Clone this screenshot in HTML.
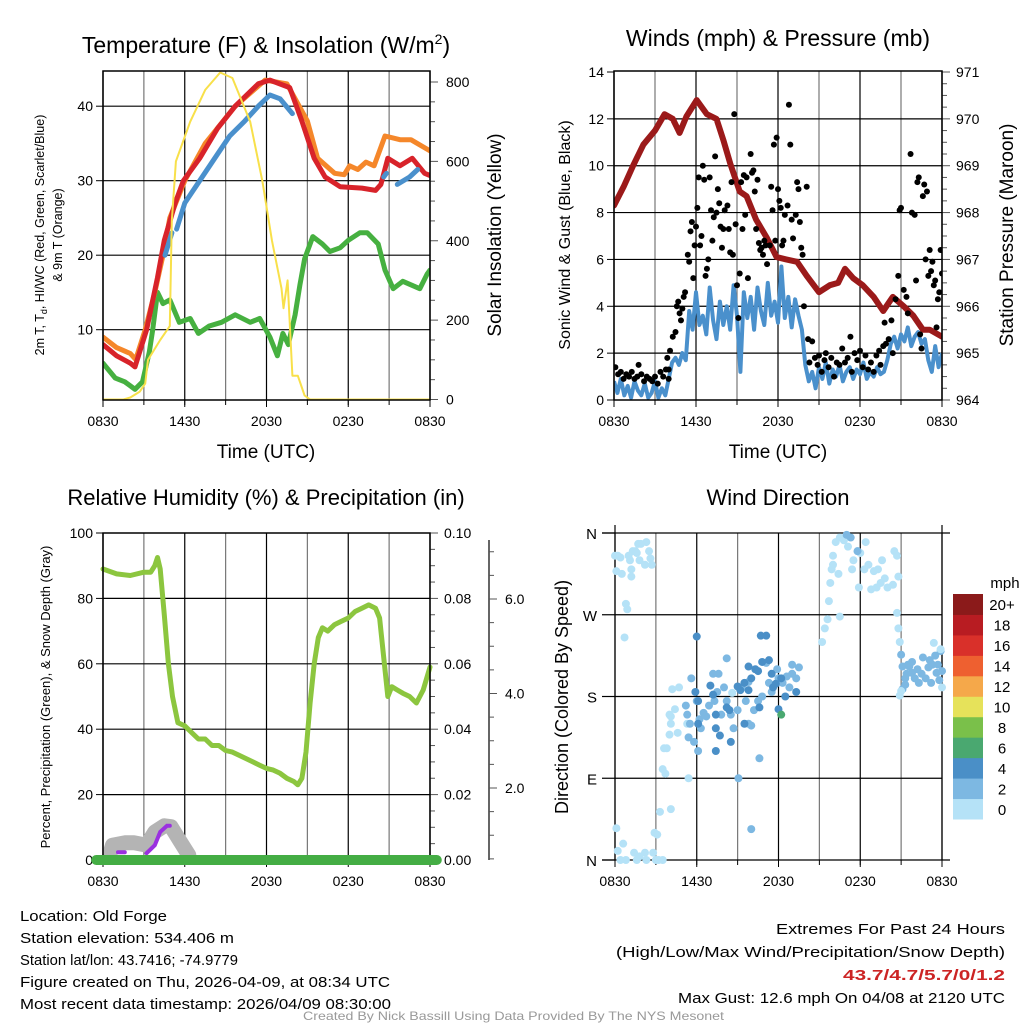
<!DOCTYPE html>
<html><head><meta charset="utf-8"><style>
body{margin:0;background:#fff}
svg{display:block;font-family:"Liberation Sans",sans-serif}
</style></head><body>
<svg id="c" width="1024" height="1024" viewBox="0 0 1024 1024">
<rect width="1024" height="1024" fill="#fff"/>
<g id="g"></g>
</svg>
<script>
// ---------- DATA ----------
const xTickLabels = ["0830","1430","2030","0230","0830"];
// Panel 1: [hour since 0830, value]
const tempOrange = [[0,9],[1,7.6],[2,6.8],[2.4,6],[3.1,10],[3.8,15],[4.4,20],[4.9,25],[6,30],[7.5,35],[9.7,40],[11.9,43.5],[13.5,43],[15,38],[15.75,33],[17,31],[17.7,30.8],[18.1,32],[18.7,31.5],[19.3,32.5],[19.9,32],[20.7,36],[21.8,35.5],[22.6,35.5],[24,34]];
const tempRed = [[0,8],[1,6.5],[2,5.5],[2.35,5],[3.2,10],[4,17],[4.5,22],[5.3,27],[5.9,30],[7.1,33],[8.4,37],[9.7,40],[11.4,43],[12.25,43.5],[13.7,42.5],[14.6,38],[15.5,33],[16.3,30.5],[17.4,29.2],[19,29],[20,28.7],[20.4,29.5],[20.9,33],[21.8,32],[22.7,33],[23.6,31],[24,30.7]];
const tempBlue = [[4.55,20],[5.06,23],null,[5.4,23.5],[6,27],[7.1,30],[8.2,33],[9.3,36],[10.4,38],[11.4,40],[12.25,41.5],[13,41],[13.9,39],null,[20.6,30.5],[20.8,31],null,[21.6,29.5],[22.5,30.5],[23.1,31.5]];
const tempGreen = [[0,5.5],[0.9,3.5],[1.6,3],[2.35,2],[2.9,3],[3.4,7],[3.65,10],[4,15],[4.4,13.5],[4.9,14],[5.6,11],[6.4,11.5],[7,9.5],[7.8,10.5],[8.7,11],[9.7,12],[10.8,11],[11.5,11.5],[12.25,9],[12.8,6.5],[13.2,9.5],[13.6,8],[14.1,12],[14.45,16],[14.8,19.5],[15.4,22.5],[16.1,21.5],[16.65,20.5],[17.4,21],[18,22],[18.85,23],[19.4,23],[20.2,21.5],[20.7,18],[21.3,15.5],[22,16.5],[23.25,15.5],[23.8,17.5],[24,18]];
const insolation = [[0,0],[1.5,0],[2,5],[2.7,20],[3.1,40],[3.3,100],[4.2,150],[4.8,180],[4.9,185],[5.05,450],[5.35,600],[6.4,700],[7.5,780],[8.6,824],[9.5,810],[10.8,700],[11.7,550],[12.4,400],[13.1,280],[13.25,230],[13.55,300],[13.9,60],[14.3,60],[14.8,10],[15.2,0],[24,0]];
const p1LeftTicks = [10,20,30,40];
const p1RightTicks = [0,200,400,600,800];
// Panel 2
const pressure = [[0,968.15],[0.7,968.55],[1.4,969.0],[2.15,969.45],[3,969.75],[3.7,970.1],[4.3,970.0],[4.8,969.7],[5.3,970.05],[6.05,970.4],[6.8,970.1],[7.5,970.0],[8,969.55],[8.5,969.05],[9.2,968.45],[9.7,968.35],[10.4,967.85],[11.2,967.45],[11.9,967.05],[12.6,967.0],[13.4,966.95],[14.1,966.65],[15,966.3],[15.8,966.45],[16.4,966.5],[16.9,966.8],[17.5,966.6],[18.2,966.45],[19,966.2],[19.7,965.9],[20.4,966.2],[21.2,966.0],[21.9,965.8],[22.6,965.5],[23.1,965.5],[24,965.35]];
const sonicWind = [0.8,0.3,0.9,0.2,0.6,0.1,0.8,0.4,0.2,0.7,0.1,0.3,0.8,0.1,0.5,0.2,0.9,
1.6,1.8,1.5,2.0,1.7,
3.8,3.0,4.6,3.2,3.6,2.8,4.8,3.4,2.6,4.2,3.2,4.0,3.0,4.9,3.6,1.2,4.6,3.5,4.4,3.0,4.8,3.8,3.2,5.0,3.6,4.2,3.3,5.7,3.5,4.4,3.1,4.3,3.6,3.0,
1.5,0.8,1.2,0.5,1.4,0.9,1.6,0.7,1.3,1.0,1.5,0.8,1.2,1.4,0.9,1.3,1.1,1.6,0.9,1.2,1.0,1.4,1.1,1.2,1.7,
2.4,2.7,2.2,2.8,2.5,3.1,2.3,2.7,2.9,2.4,2.6,1.7,1.2,2.3,1.4,2.0];
const gust = [[0.1,1.4],[0.3,1.1],[0.5,1.2],[0.7,0.9],[0.9,1.1],[1.1,1.0],[1.3,1.2],[1.5,0.9],[1.7,1.0],[1.8,1.5],[2.0,1.1],[2.2,0.8],[2.4,1.0],[2.6,0.9],[2.8,0.8],[3.0,1.0],[3.2,0.7],[3.4,1.2],[3.6,1.0],[3.8,1.3],[4.0,0.9],[4.0,1.3],
[3.9,1.8],[4.1,2.1],[4.3,2.7],[4.5,2.9],[4.6,4.0],[4.7,4.2],[4.8,3.7],[4.9,3.4],[5.0,3.9],[5.1,4.4],[5.2,4.6],[5.4,6.2],[5.5,5.9],[5.6,7.2],[5.7,7.6],[5.8,5.2],[5.9,6.6],[6.0,7.4],[6.1,8.2],[6.2,9.5],[6.3,6.6],[6.4,7.0],[6.5,10.0],[6.6,9.4],[6.7,5.3],[6.8,5.6],[6.9,6.0],[7.0,9.5],[7.1,8.1],[7.2,6.8],[7.3,7.8],[7.4,10.4],[7.5,8.0],[7.6,9.0],[7.7,8.4],[7.8,7.4],[7.9,6.5],[8.0,7.3],[8.1,8.1],[8.3,8.3],[8.4,7.3],[8.5,6.3],[8.6,9.3],[8.7,6.2],[8.8,12.2],[8.9,7.5],[9.0,4.9],[9.1,3.5],[9.2,5.4],[9.3,9.3],[9.4,7.3],[9.5,9.6],[9.6,7.9],[9.7,9.5],[9.8,5.2],[10.0,10.5],[10.1,9.7],[10.2,9.8],[10.3,8.9],[10.4,7.3],[10.5,9.4],[10.6,6.7],[10.7,6.4],[10.8,6.5],[10.9,6.2],[11.0,6.8],[11.1,6.6],[11.2,5.8],[11.4,6.6],[11.5,9.1],[11.6,8.1],[11.7,10.9],[11.8,6.8],[11.9,11.2],[12.0,9.0],[12.1,8.5],[12.2,8.2],[12.3,6.6],[12.4,6.8],[12.5,7.9],[12.7,8.3],[12.8,12.6],[12.9,10.9],[13.0,7.7],[13.1,6.9],[13.3,7.9],[13.4,9.3],[13.5,9.0],[13.6,7.6],[13.7,6.5],[13.8,6.2],[13.9,4.0],[14.1,9.1],[14.2,2.6],
[14.3,1.6],[14.5,2.5],[14.7,1.8],[14.9,1.5],[15.0,1.9],[15.2,1.2],[15.4,1.7],[15.5,2.0],[15.7,1.4],[15.9,1.8],[16.1,1.0],[16.3,1.6],[16.5,1.5],[16.7,2.2],[16.9,1.6],[17.1,1.8],[17.3,2.7],[17.4,1.2],[17.6,2.0],[17.8,1.7],[18.0,2.1],[18.2,1.4],[18.4,1.9],[18.6,1.3],[18.8,1.6],[19.0,1.2],[19.2,1.9],[19.4,2.1],[19.5,1.5],[19.7,2.3],[19.8,3.3],[19.9,2.4],[20.1,2.6],[20.3,3.4],[20.4,2.0],
[20.6,4.3],[20.8,5.3],[20.9,8.1],[21.0,8.2],[21.2,4.7],[21.4,4.4],[21.5,3.7],[21.7,10.5],[21.8,8.0],[22.0,7.9],[22.1,5.1],[22.2,9.3],[22.3,9.5],[22.4,2.8],[22.5,2.2],[22.6,8.7],[22.7,9.2],[22.8,6.0],[22.9,8.9],[23.0,5.3],[23.1,6.4],[23.2,5.5],[23.3,5.9],[23.4,4.9],[23.5,5.1],[23.6,3.1],[23.7,4.3],[23.8,4.6],[23.9,6.4],[24.0,5.4]];
const p2LeftTicks = [0,2,4,6,8,10,12,14];
const p2RightTicks = [964,965,966,967,968,969,970,971];
// Panel 3
const rh = [[0,89],[1,87.5],[2,87],[3,88],[3.5,88],[3.8,90],[4.0,92.5],[4.2,89],[4.5,75],[4.8,60],[5.1,50],[5.5,42],[6,41],[6.5,39],[7,37],[7.5,37],[8,35],[8.5,35],[9,33.5],[9.5,33],[10,32],[10.5,31],[11,30],[11.5,29],[12,28],[12.5,27.5],[13,26.5],[13.5,25],[14,24],[14.3,23],[14.6,25],[14.9,33],[15.2,48],[15.5,60],[15.8,68],[16.1,71],[16.5,70],[17,72],[17.5,73],[18,74],[18.5,76],[19,77],[19.5,78],[20,77],[20.3,74],[20.6,62],[20.9,50],[21.2,53],[21.6,52],[22,51],[22.5,50],[23,48],[23.5,52],[24,59]];
const snowDepth = [[0.5,0.6],[0.7,0.79],[1.6,0.84],[2.3,0.84],[3.2,0.79],[3.8,1.07],[4.5,1.2],[5.0,1.18],[5.6,0.9],[6.3,0.58]];
const purpleTrace = [[1.1,0.64],[1.6,0.64],null,[3.2,0.62],[3.8,0.79],[4.2,1.07],[4.7,1.2],[4.9,1.2]];
const precip = [[-0.5,0],[24.5,0]];
const p3LeftTicks = [0,20,40,60,80,100];
const p3RightTicks = ["0.00","0.02","0.04","0.06","0.08","0.10"];
const snowTicks = [2,4,6];
// Panel 4: [hour, degrees, speed mph]
const windDir = [[0.0,335,0.5],[0.2,335,0.5],[0.4,333,0.5],[0.1,318,0.5],[0.5,315,0.5],[1.0,335,0.5],[1.1,330,0.5],[1.2,320,0.5],[1.5,340,0.5],[1.7,348,0.5],[1.9,348,0.5],[2.3,350,0.5],[1.8,330,0.5],[2.2,325,0.5],[2.5,340,0.5],[2.6,332,0.5],[2.7,325,0.5],[1.3,340,0.5],[1.6,338,0.5],[0.8,282,0.5],[0.9,276,0.5],[0.7,245,0.5],[1.2,312,0.5],
[0.1,35,0.5],[0.2,10,0.5],[0.4,0,0.5],[0.6,18,0.5],[0.8,0,0.5],[1.4,8,0.5],[1.6,0,0.5],[1.8,4,0.5],[2.2,8,0.5],[2.3,0,0.5],[2.8,8,0.5],[3.0,0,0.5],[3.2,0,0.5],[3.5,0,0.5],[2.9,30,0.5],[3.1,28,0.5],[3.3,53,0.5],[4.1,56,0.5],
[3.5,100,0.5],[3.6,123,0.5],[3.8,123,0.5],[4.0,138,0.5],[4.1,150,0.5],[4.0,160,0.5],[4.4,166,0.5],[4.1,158,0.5],[4.6,140,0.5],[3.7,95,0.5],[5.4,90,0.5],[8.6,184,0.5],[4.7,190,0.5],[4.2,188,0.5],[5.3,150,0.5],
[5.2,170,2.5],[5.6,200,2.5],[5.3,160,2.5],[5.5,150,2.5],[5.8,130,2.5],[5.4,135,2.5],[6.1,120,2.5],[6.3,145,2.5],[6.5,162,2.5],[6.7,158,2.5],[6.2,155,2.5],[6.0,175,2.5],[6.9,170,2.5],[7.3,175,2.5],[7.5,185,2.5],[7.6,205,2.5],[7.8,160,2.5],[8.0,190,2.5],[8.2,175,2.5],[8.5,160,2.5],[8.7,145,2.5],[9.0,165,2.5],[9.3,190,2.5],[9.6,175,2.5],[9.8,150,2.5],[10.0,148,2.5],[10.2,165,2.5],[10.5,175,2.5],[10.8,180,2.5],[11.3,195,2.5],[11.5,185,2.5],[12.0,200,2.5],[12.3,195,2.5],[12.6,202,2.5],[12.8,190,2.5],[13.0,205,2.5],[13.3,200,2.5],[13.5,212,2.5],[13.0,215,2.5],[11.9,210,2.5],[11.1,217,2.5],[9.8,196,2.5],[8.2,222,2.5],[7.2,205,2.5],[10.6,112,2.5],[10.0,34,2.5],[9.06,90,2.5],
[5.9,185,4.5],[6.1,175,4.5],[6.1,150,4.5],[7.0,192,4.5],[7.2,182,4.5],[7.4,160,4.5],[7.4,145,4.5],[7.7,137,4.5],[8.2,168,4.5],[8.4,165,4.5],[9.0,191,4.5],[9.2,187,4.5],[9.5,195,4.5],[9.8,213,4.5],[10.0,200,4.5],[10.3,210,4.5],[10.5,208,4.5],[10.8,218,4.5],[11.3,220,4.5],[11.5,205,4.5],[11.6,190,4.5],[11.8,194,4.5],[12.2,200,4.5],[12.5,180,4.5],[13.3,185,4.5],[12.0,166,4.5],[10.6,168,4.5],[9.5,150,4.5],[7.4,120,4.5],[8.5,130,4.5],[9.8,187,4.5],[10.7,247,4.5],[11.1,247,4.5],[6.0,246,4.5],
[12.2,160,6.5],
[15.2,240,0.5],[15.4,255,0.5],[15.6,265,0.5],[15.7,285,0.5],[15.8,305,0.5],[15.9,320,0.5],[16.0,335,0.5],[16.2,350,0.5],[16.5,355,0.5],[16.8,352,0.5],[17.1,345,0.5],[17.5,330,0.5],[17.8,340,0.5],[18.0,338,0.5],[18.4,350,0.5],[18.6,325,0.5],[18.8,298,0.5],[18.3,320,0.5],[19.0,318,0.5],[19.3,320,0.5],[19.5,305,0.5],[19.2,300,0.5],[19.8,310,0.5],[20.0,300,0.5],[20.5,340,0.5],[20.7,335,0.5],[20.8,312,0.5],[20.4,303,0.5],[16.0,325,0.5],[17.4,320,0.5],[17.9,300,0.5],[16.4,315,0.5],[19.6,330,0.5],[16.5,268,0.5],
[17.0,358,2.5],[17.3,355,2.5],[17.8,340,2.5],
[20.7,272,0.5],[20.8,255,0.5],[20.9,240,0.5],[21.0,226,2.5],[21.1,213,2.5],[21.3,200,2.5],[21.4,205,2.5],[21.5,215,2.5],[21.6,213,2.5],[21.8,206,2.5],[22.0,200,2.5],[22.2,210,2.5],[22.5,205,2.5],[22.8,200,2.5],[23.0,212,2.5],[23.1,220,2.5],[23.3,215,2.5],[23.5,225,2.5],[23.6,206,2.5],[23.8,198,2.5],[23.9,230,2.5],[24.0,208,2.5],[23.2,195,2.5],[22.3,195,2.5],[21.8,218,2.5],[21.3,193,2.5],[22.6,223,2.5],[21.1,188,2.5],[23.7,215,2.5],
[24.0,190,0.5],[23.9,232,0.5],[20.9,181,0.5],[21.0,186,0.5],[23.4,239,0.5]];
const dirTickLabels = ["N","E","S","W","N"];
const speedBinLabels = ["0","2","4","6","8","10","12","14","16","18","20+"];
const speedBinColors = ["#b5e2f7","#7db8e2","#4a8fc7","#4aa870","#7ac04a","#e6e25a","#f5a84a","#ee6030","#d9302a","#b81c22","#8b1a1a"];

// ---------- DRAW ----------
const NS="http://www.w3.org/2000/svg";
const G=document.getElementById('g');
function el(tag,attrs,parent,text){const e=document.createElementNS(NS,tag);for(const k in attrs)e.setAttribute(k,attrs[k]);if(text!==undefined)e.textContent=text;(parent||G).appendChild(e);return e;}
function lin(d0,d1,r0,r1){return v=>r0+(v-d0)*(r1-r0)/(d1-d0);}
function pathFrom(pts,xf,yf){let d="",pen=false;for(const p of pts){if(!p){pen=false;continue;}d+=(pen?"L":"M")+xf(p[0]).toFixed(1)+","+yf(p[1]).toFixed(1);pen=true;}return d;}

function frame(x0,x1,y0,y1,name){
  const fr=el('g',{},G);
  
  
  const xs=lin(0,24,x0,x1);
  for(let i=0;i<=8;i++){
    const l=el('line',{x1:xs(i*3),x2:xs(i*3),y1:y0,y2:y1,stroke:i%2?'#777':'#000','stroke-width':1.2},fr);
    
    
  }
  xTickLabels.forEach((t,i)=>{
    const tx=el('text',{x:xs(i*6),y:y1+26,'font-size':14,'text-anchor':'middle'},fr,t);
    
    
    el('line',{x1:xs(i*6),x2:xs(i*6),y1:y1,y2:y1+7,stroke:'#000'},fr);
  });
  for(let i=0;i<=8;i++) el('line',{x1:xs(i*3),x2:xs(i*3),y1:y1,y2:y1+5,stroke:'#000'},fr);
  return xs;
}
function hgrid(x0,x1,y,parent){const l=el('line',{x1:x0,x2:x1,y1:y,y2:y,stroke:'#000','stroke-width':1.2},parent);}
function border(x0,x1,y0,y1){el('rect',{x:x0,y:y0,width:x1-x0,height:y1-y0,fill:'none',stroke:'#000','stroke-width':1.5});}
function txt(x,y,s,size,name,extra){const a=Object.assign({x:x,y:y,'font-size':size},extra||{});const t=el('text',a,G,s);return t;}
function vtxt(x,y,s,size,name){const t=el('text',{x:0,y:0,'font-size':size,'text-anchor':'middle',transform:`translate(${x},${y}) rotate(-90)`},G,s);return t;}

// Panel 1
(function(){
  const x0=103,x1=430,y0=71,y1=400;
  const xs=frame(x0,x1,y0,y1,'temperature-panel');
  const yl=lin(0,10,404.2,329.7), yr=lin(0,800,399.5,82);
  p1LeftTicks.forEach(v=>{hgrid(x0,x1,yl(v));el('line',{x1:x0-7,x2:x0,y1:yl(v),y2:yl(v),stroke:'#000'});
    const t=txt(x0-10,yl(v)+5,String(v),14,'left-tick-label',{'text-anchor':'end'});});
  for(let v=0;v<=830;v+=50){const big=v%200===0;el('line',{x1:x1,x2:x1+(big?8:5),y1:yr(v),y2:yr(v),stroke:'#555'});}
  p1RightTicks.forEach(v=>{txt(x1+16,yr(v)+5,String(v),14,'right-tick-label');});
  const cp=el('clipPath',{id:'cp1'});el('rect',{x:x0,y:y0,width:x1-x0,height:y1-y0},cp);
  const pg=el('g',{'clip-path':'url(#cp1)'});
  const series=[[tempGreen,'#46b040',yl,'dewpoint-line',5],[tempOrange,'#f5872a',yl,'9m-temp-line',5],[tempRed,'#d8232a',yl,'2m-temp-line',5],[tempBlue,'#4a90cc',yl,'windchill-line',5],[insolation,'#f8e04a',yr,'insolation-line',2]];
  series.forEach(s=>{const p=el('path',{d:pathFrom(s[0],xs,s[2]),fill:'none',stroke:s[1],'stroke-width':s[4],'stroke-linejoin':'round','stroke-linecap':'round'},pg);
    });
  border(x0,x1,y0,y1);
  const t=el('text',{x:266,y:53,'font-size':23,'text-anchor':'middle'},G);
  t.innerHTML='Temperature (F) &amp; Insolation (W/m<tspan dy="-9" font-size="14">2</tspan><tspan dy="9">)</tspan>';
  txt(266,458,'Time (UTC)',19,'x-axis-title',{'text-anchor':'middle'});
  const a=el('text',{x:0,y:0,'font-size':12.5,'text-anchor':'middle',transform:'translate(44,235) rotate(-90)'},G);
  a.innerHTML='2m T, T<tspan dy="3" font-size="9">d</tspan><tspan dy="-3">, HI/WC (Red, Green, Scarlet/Blue)</tspan>';
  vtxt(62,235,'& 9m T (Orange)',12.5,'left-axis-title-2');
  vtxt(501,235,'Solar Insolation (Yellow)',19,'right-axis-title');
})();

// Panel 2
(function(){
  const x0=614,x1=942,y0=71,y1=400;
  const xs=frame(x0,x1,y0,y1,'winds-panel');
  const yl=lin(0,14,400,72), yr=lin(964,971,400,72);
  p2LeftTicks.forEach(v=>{if(v>0&&v<14)hgrid(x0,x1,yl(v));el('line',{x1:x0-7,x2:x0,y1:yl(v),y2:yl(v),stroke:'#000'});
    txt(x0-10,yl(v)+5,String(v),14,'left-tick-label',{'text-anchor':'end'});});
  for(let v=964;v<=971.01;v+=0.25){const big=Math.abs(v-Math.round(v))<0.01;el('line',{x1:x1,x2:x1+(big?8:5),y1:yr(v),y2:yr(v),stroke:'#555'});}
  p2RightTicks.forEach(v=>txt(x1+14,yr(v)+5,String(v),14,'right-tick-label'));
  const cp=el('clipPath',{id:'cp2'});el('rect',{x:x0,y:y0-2,width:x1-x0,height:y1-y0+2},cp);
  const pg=el('g',{'clip-path':'url(#cp2)'});
  const wp=sonicWind.map((v,i)=>[i*0.25,v]);
  const w=el('path',{d:pathFrom(wp,xs,yl),fill:'none',stroke:'#4a90cc','stroke-width':4,'stroke-linejoin':'round'},pg);
  
  const pr=el('path',{d:pathFrom(pressure,xs,yr),fill:'none',stroke:'#9b1a1a','stroke-width':6,'stroke-linejoin':'round','stroke-linecap':'round'},pg);
  
  gust.forEach(g=>{const c=el('circle',{cx:xs(g[0]),cy:yl(g[1]),r:3,fill:'#000'},pg);
    });
  border(x0,x1,y0,y1);
  txt(778,46,'Winds (mph) & Pressure (mb)',23,'winds-title',{'text-anchor':'middle'});
  txt(778,458,'Time (UTC)',19,'x-axis-title',{'text-anchor':'middle'});
  vtxt(570,235,'Sonic Wind & Gust (Blue, Black)',16,'left-axis-title');
  vtxt(1013,235,'Station Pressure (Maroon)',19,'right-axis-title');
})();

// Panel 3
(function(){
  const x0=103,x1=430,y0=533,y1=860;
  const xs=frame(x0,x1,y0,y1,'humidity-panel');
  const yl=lin(0,100,860,533), ys=lin(0,2,882.5,788);
  p3LeftTicks.forEach(v=>{if(v>0&&v<100)hgrid(x0,x1,yl(v));el('line',{x1:x0-7,x2:x0,y1:yl(v),y2:yl(v),stroke:'#000'});
    txt(x0-10,yl(v)+5,String(v),14,'left-tick-label',{'text-anchor':'end'});});
  for(let v=0;v<=100;v+=5){const big=v%20===0;el('line',{x1:x1,x2:x1+(big?8:5),y1:yl(v),y2:yl(v),stroke:'#555'});}
  p3RightTicks.forEach((s,i)=>txt(x1+14,yl(i*20)+5,s,14,'right-tick-label'));
  el('line',{x1:489,x2:489,y1:540,y2:860,stroke:'#333','stroke-width':1.5});
  for(let v=0.5;v<=7;v+=0.5){const yy=ys(v);if(yy<540||yy>860)continue;const big=v%2===0;el('line',{x1:489,x2:489+(big?8:5),y1:yy,y2:yy,stroke:'#555'});}
  snowTicks.forEach(v=>txt(505,ys(v)+5,v.toFixed(1),14,'snow-tick-label'));
  const cp=el('clipPath',{id:'cp3'});el('rect',{x:x0-8,y:y0,width:x1-x0+16,height:y1-y0+8},cp);
  const pg=el('g',{'clip-path':'url(#cp3)'});
  const sd=el('path',{d:pathFrom(snowDepth,xs,ys),fill:'none',stroke:'#b4b4b4','stroke-width':15,'stroke-linejoin':'round','stroke-linecap':'round'},pg);
  
  const pu=el('path',{d:pathFrom(purpleTrace,xs,ys),fill:'none',stroke:'#9b30e0','stroke-width':4,'stroke-linecap':'round'},pg);
  
  const r=el('path',{d:pathFrom(rh,xs,yl),fill:'none',stroke:'#8cc63f','stroke-width':5,'stroke-linejoin':'round','stroke-linecap':'round'},pg);
  
  border(x0,x1,y0,y1);
  const pc=el('path',{d:pathFrom(precip,xs,v=>yl(0)+v),fill:'none',stroke:'#44ad44','stroke-width':10,'stroke-linecap':'round'});
  
  txt(266,505,'Relative Humidity (%) & Precipitation (in)',22,'humidity-title',{'text-anchor':'middle'});
  vtxt(50,697,'Percent, Precipitation (Green), & Snow Depth (Gray)',13,'left-axis-title');
})();

// Panel 4
(function(){
  const x0=615,x1=942,y0=533,y1=860;
  const xs=frame(x0,x1,y0,y1,'wind-direction-panel');
  const yd=lin(0,360,860,533);
  dirTickLabels.forEach((s,i)=>{const v=i*90;if(i>0&&i<4)hgrid(x0,x1,yd(v));
    el('line',{x1:x0-13,x2:x0,y1:yd(v),y2:yd(v),stroke:'#000','stroke-width':1.2});
    txt(x0-18,yd(v)+6,s,15,'direction-tick-label',{'text-anchor':'end'});});
  el('line',{x1:x0-13,x2:x1+8,y1:y0,y2:y0,stroke:'#000','stroke-width':1.2});
  el('line',{x1:x0-13,x2:x1+8,y1:y1,y2:y1,stroke:'#000','stroke-width':1.2});
  el('line',{x1:x0,x2:x0,y1:y0-8,y2:y1,stroke:'#000','stroke-width':1.2});
  el('line',{x1:x1,x2:x1,y1:y0-8,y2:y1,stroke:'#000','stroke-width':1.2});
  windDir.forEach(d=>{const bin=Math.min(10,Math.floor(d[2]/2));
    const c=el('circle',{cx:xs(d[0]),cy:yd(d[1]),r:4,fill:speedBinColors[bin]});
    });
  const bh=(819-594)/11;
  speedBinLabels.forEach((s,i)=>{const yy=819-(i+1)*bh;
    const r=el('rect',{x:953,y:yy,width:30,height:bh+0.5,fill:speedBinColors[i]});
    
    txt(1002,yy+bh/2+6,s,15,'colorbar-label',{'text-anchor':'middle'});});
  txt(1005,588,'mph',15,'colorbar-title',{'text-anchor':'middle'});
  txt(778,505,'Wind Direction',22,'wind-direction-title',{'text-anchor':'middle'});
  vtxt(568,697,'Direction (Colored By Speed)',18,'left-axis-title');
})();

// Footer texts
const leftInfo=[["Location: Old Forge",147],["Station elevation: 534.406 m",214],["Station lat/lon: 43.7416; -74.9779",218],["Figure created on Thu, 2026-04-09, at 08:34 UTC",370],["Most recent data timestamp: 2026/04/09 08:30:00",371]];
leftInfo.forEach((l,i)=>{const t=txt(20,921+i*22,l[0],15,'station-info-line',{textLength:l[1],lengthAdjust:'spacingAndGlyphs'});});
const rightInfo=[["Extremes For Past 24 Hours",229,'#000','normal'],["(High/Low/Max Wind/Precipitation/Snow Depth)",389,'#000','normal'],["43.7/4.7/5.7/0/1.2",162,'#cc2424','bold'],["Max Gust: 12.6 mph On 04/08 at 2120 UTC",327,'#000','normal']];
rightInfo.forEach((l,i)=>{txt(1005-l[1],934+i*23,l[0],15,'extremes-line',{textLength:l[1],lengthAdjust:'spacingAndGlyphs',fill:l[2],'font-weight':l[3]});});
txt(303,1020,'Created By Nick Bassill Using Data Provided By The NYS Mesonet',12,'credit-footer',{fill:'#999',textLength:421,lengthAdjust:'spacingAndGlyphs'});
</script>
</body></html>
